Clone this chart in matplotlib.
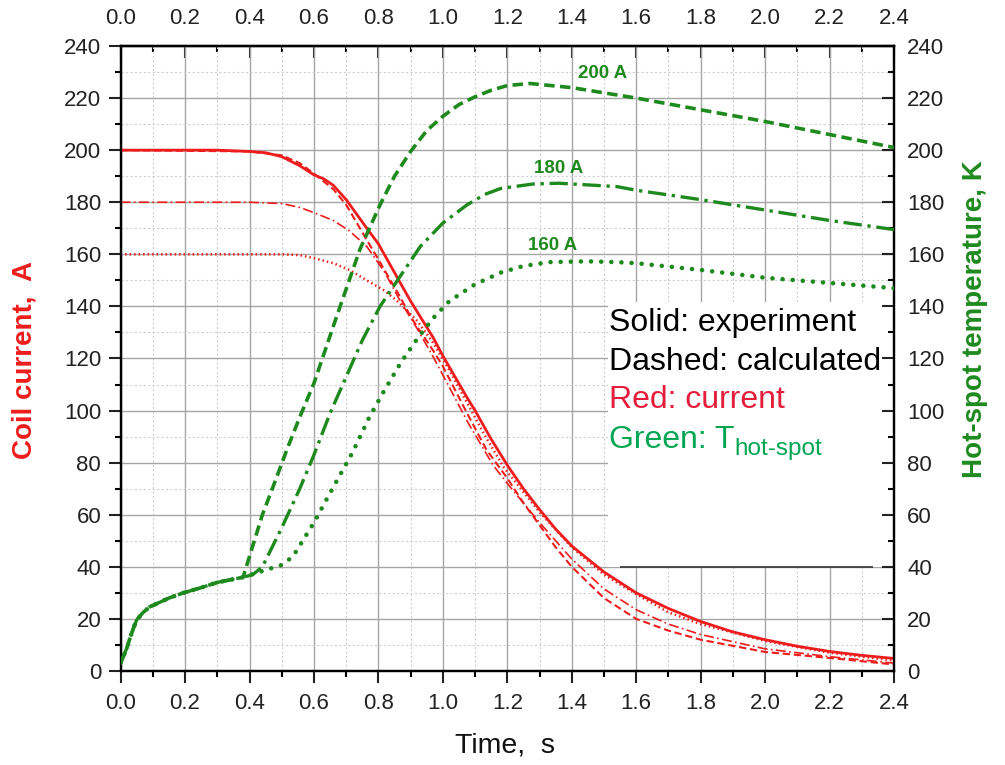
import numpy as np
import matplotlib
matplotlib.use("Agg")
import matplotlib.pyplot as plt
from matplotlib.ticker import MultipleLocator
from matplotlib.patches import Rectangle

plt.rcParams['font.family'] = ['Liberation Sans', 'DejaVu Sans']

# ---- data ----
# measured coil current (200 A run)
t_exp = [0, 0.1, 0.2, 0.3, 0.4, 0.45, 0.5, 0.556, 0.6, 0.63, 0.66, 0.7, 0.764, 0.8, 0.868,
         0.9, 0.97, 1.0, 1.075, 1.1, 1.15, 1.2, 1.25, 1.3, 1.35, 1.4, 1.5, 1.6, 1.7, 1.8,
         1.9, 2.0, 2.1, 2.2, 2.3, 2.4]
i_exp = [200, 200, 200, 200, 199.5, 199, 197.5, 194, 190.5, 189, 186.5, 181, 170, 164, 149,
         142, 128, 121, 105, 100, 89, 79, 70, 62, 54.5, 48, 38, 30, 24, 19,
         15, 12, 9.5, 7.5, 6, 4.8]

# calculated currents
t_i200 = [0, 0.4, 0.5, 0.556, 0.6, 0.66, 0.7, 0.764, 0.8, 0.868, 0.9, 0.97, 1.0,
          1.075, 1.135, 1.2, 1.25, 1.3, 1.35, 1.4, 1.5, 1.6, 1.7, 1.8, 2.0, 2.2, 2.4]
i_200 = [200, 199.5, 198, 195, 191, 185, 179, 165.5, 158, 143.5, 136, 123, 117,
         99, 85, 74, 64.5, 56, 47.5, 40, 28, 20, 15.5, 12, 7.3, 5, 2.5]
t_i180 = [0, 0.4, 0.5, 0.556, 0.6, 0.66, 0.71, 0.764, 0.82, 0.868, 0.92, 0.97, 1.02,
          1.075, 1.156, 1.2, 1.3, 1.4, 1.5, 1.6, 1.7, 1.8, 2.0, 2.2, 2.4]
i_180 = [180, 180, 179.5, 178, 176, 173, 169, 163, 153, 142, 131.5, 120.6, 109,
         96, 79, 72, 57, 43, 31.5, 23.5, 18, 14, 8.5, 5.5, 3]
t_i160 = [0, 0.5, 0.556, 0.6, 0.66, 0.71, 0.764, 0.82, 0.868, 0.92, 0.97, 1.02,
          1.075, 1.13, 1.19, 1.3, 1.4, 1.5, 1.6, 1.7, 1.8, 2.0, 2.2, 2.4]
i_160 = [160, 160, 159.7, 158.5, 156.6, 154, 150, 146, 141, 134.5, 126, 115.5,
         103, 90.5, 78, 61, 47.5, 37, 29.5, 22.5, 18, 11.5, 7, 4]

# hot-spot temperature, common start then one branch per current
t_base = [0, 0.01, 0.02, 0.03, 0.04, 0.05, 0.07, 0.09, 0.12, 0.15, 0.195, 0.25, 0.30, 0.38]
T_base = [3, 6, 9, 13, 16.5, 19.6, 22.5, 24.6, 26.3, 28, 30, 32, 34, 36]

t_T200 = [0.40, 0.44, 0.48, 0.516, 0.556, 0.60, 0.67, 0.743, 0.805, 0.85, 0.90, 0.95,
          1.0, 1.05, 1.1, 1.15, 1.2, 1.27, 1.4, 1.6, 1.8, 2.0, 2.2, 2.4]
T_200 = [44, 60, 73, 85, 97.5, 110.5, 136, 162, 179, 190, 199.5, 207.5,
         213, 217.5, 220.5, 223, 224.8, 225.6, 224, 220, 215.5, 211, 206, 201]
t_T180 = [0.41, 0.44, 0.50, 0.556, 0.60, 0.65, 0.70, 0.75, 0.805, 0.87, 0.93, 1.0,
          1.075, 1.13, 1.18, 1.28, 1.36, 1.54, 1.6, 1.8, 2.0, 2.2, 2.4]
T_180 = [37, 40, 55, 70, 83, 99, 113, 127, 140, 152, 163, 172,
         179, 183, 185.3, 187, 187.3, 186, 184.6, 181, 177, 173, 169.5]
t_T160 = [0.43, 0.50, 0.535, 0.60, 0.66, 0.72, 0.77, 0.815, 0.87, 0.92, 0.97, 1.02,
          1.1, 1.18, 1.25, 1.33, 1.45, 1.54, 1.6, 1.8, 2.0, 2.2, 2.4]
T_160 = [38, 40.7, 44, 57, 70.6, 84, 97, 107, 118.5, 127.5, 135.5, 142,
         148.5, 153, 155.5, 157, 157.3, 157, 156.6, 154, 151, 149, 147]

labels_T = ['200 A', '180 A', '160 A']
label_pos = [(1.495, 229.5), (1.36, 193), (1.34, 163.5)]

legend_lines = ['Solid: experiment', 'Dashed: calculated', 'Red: current', 'Green: T']
legend_cols = ['black', 'black', '#e51d3b', '#00a651']

RED = '#ee1c1c'
GREEN = '#1e8a1e'
TICK = '#222222'

fig = plt.figure(figsize=(10.05, 7.65), dpi=100)
ax = fig.add_axes([0.120, 0.1229, 0.7696, 0.8170])

ax.set_xlim(0, 2.4)
ax.set_ylim(0, 240)
ax.xaxis.set_major_locator(MultipleLocator(0.2))
ax.xaxis.set_minor_locator(MultipleLocator(0.1))
ax.yaxis.set_major_locator(MultipleLocator(20))
ax.yaxis.set_minor_locator(MultipleLocator(10))
ax.set_axisbelow(True)
ax.grid(which='major', color='#a6a6a6', lw=1.0)
ax.grid(which='minor', color='#cfcfcf', lw=0.8, ls=(0, (2, 2)))
ax.xaxis.set_major_formatter(plt.FuncFormatter(lambda v, p: f'{v:.1f}'))

# current curves
ax.plot(t_exp, i_exp, color=RED, lw=2.0, zorder=3)
ax.plot(t_i200, i_200, color=RED, lw=1.5, ls=(0, (3.5, 1.8)), zorder=3)
ax.plot(t_i180, i_180, color=RED, lw=1.2, ls=(0, (6, 2, 1, 2)), zorder=3)
ax.plot(t_i160, i_160, color=RED, lw=1.8, ls=(0, (0.6, 1.2)), zorder=3)

# text box
ax.add_patch(Rectangle((1.513, 40), 2.4 - 1.513, 101.6, facecolor='white',
                       edgecolor='none', zorder=1))
ax.hlines(40, 1.55, 2.336, color='#333333', lw=1.2, zorder=1.5)
ys = [133.6, 118.6, 104, 88.7]
txts = []
for s, c, y in zip(legend_lines, legend_cols, ys):
    txts.append(ax.text(1.515, y, s, color=c, fontsize=23, ha='left', va='center', zorder=5))
ax.annotate('hot-spot', xy=(1.0, 0.2), xycoords=txts[-1], color=legend_cols[-1],
            fontsize=17.5, ha='left', va='center', zorder=5)

# temperature curves on the right axis
ax2 = ax.twinx()
ax2.set_ylim(0, 240)
ax2.yaxis.set_major_locator(MultipleLocator(20))
ax2.yaxis.set_minor_locator(MultipleLocator(10))
ax2.plot(t_base + t_T200, T_base + T_200, color=GREEN, lw=2.6,
         ls=(0, (2.9, 1.5)), zorder=3)
ax2.plot(t_base + t_T180, T_base + T_180, color=GREEN, lw=2.4,
         ls=(0, (5.5, 1.7, 1, 1.7)), zorder=3)
ax2.plot(t_base + t_T160, T_base + T_160, color=GREEN, lw=3.3,
         ls=(0, (0.01, 2.2)), dash_capstyle='round', zorder=3)
for lab, (x, y) in zip(labels_T, label_pos):
    ax2.text(x, y, lab, color=GREEN, fontsize=13.5, fontweight='bold',
             ha='center', va='center')

top = ax.secondary_xaxis('top')
top.xaxis.set_major_locator(MultipleLocator(0.2))
top.xaxis.set_minor_locator(MultipleLocator(0.1))
top.xaxis.set_major_formatter(plt.FuncFormatter(lambda v, p: f'{v:.1f}'))

for a in (ax, ax2):
    for sp in a.spines.values():
        sp.set_linewidth(1.6)
top.spines['top'].set_linewidth(1.6)

ax.tick_params(which='major', direction='out', length=8.5, width=1.5,
               labelsize=16, colors=TICK, pad=5.5, top=False, right=False)
ax.tick_params(axis='x', which='major', pad=7)
ax.tick_params(which='minor', direction='out', length=4.5, width=1.5,
               top=False, right=False)
ax2.tick_params(which='major', direction='in', length=8.5, width=1.5,
                labelsize=16, colors=TICK, pad=9.5)
ax2.tick_params(which='minor', direction='in', length=4.5, width=1.5)
top.tick_params(which='major', direction='in', length=8.5, width=1.5,
                labelsize=16, colors=TICK, pad=12)
top.tick_params(which='minor', direction='in', length=4.5, width=1.5)

fig.text(0.024, 1 - 360 / 765, 'Coil current,  A', color=RED, fontsize=20,
         fontweight='bold', rotation=90, ha='center', va='center')
fig.text(0.970, 1 - 319 / 765, 'Hot-spot temperature, K', color=GREEN, fontsize=20,
         fontweight='bold', rotation=90, ha='center', va='center')
fig.text(505 / 1005, 1 - 745 / 765, 'Time,  s', color='#111111', fontsize=20.5,
         ha='center', va='center')

fig.savefig('out.png', dpi=100)
